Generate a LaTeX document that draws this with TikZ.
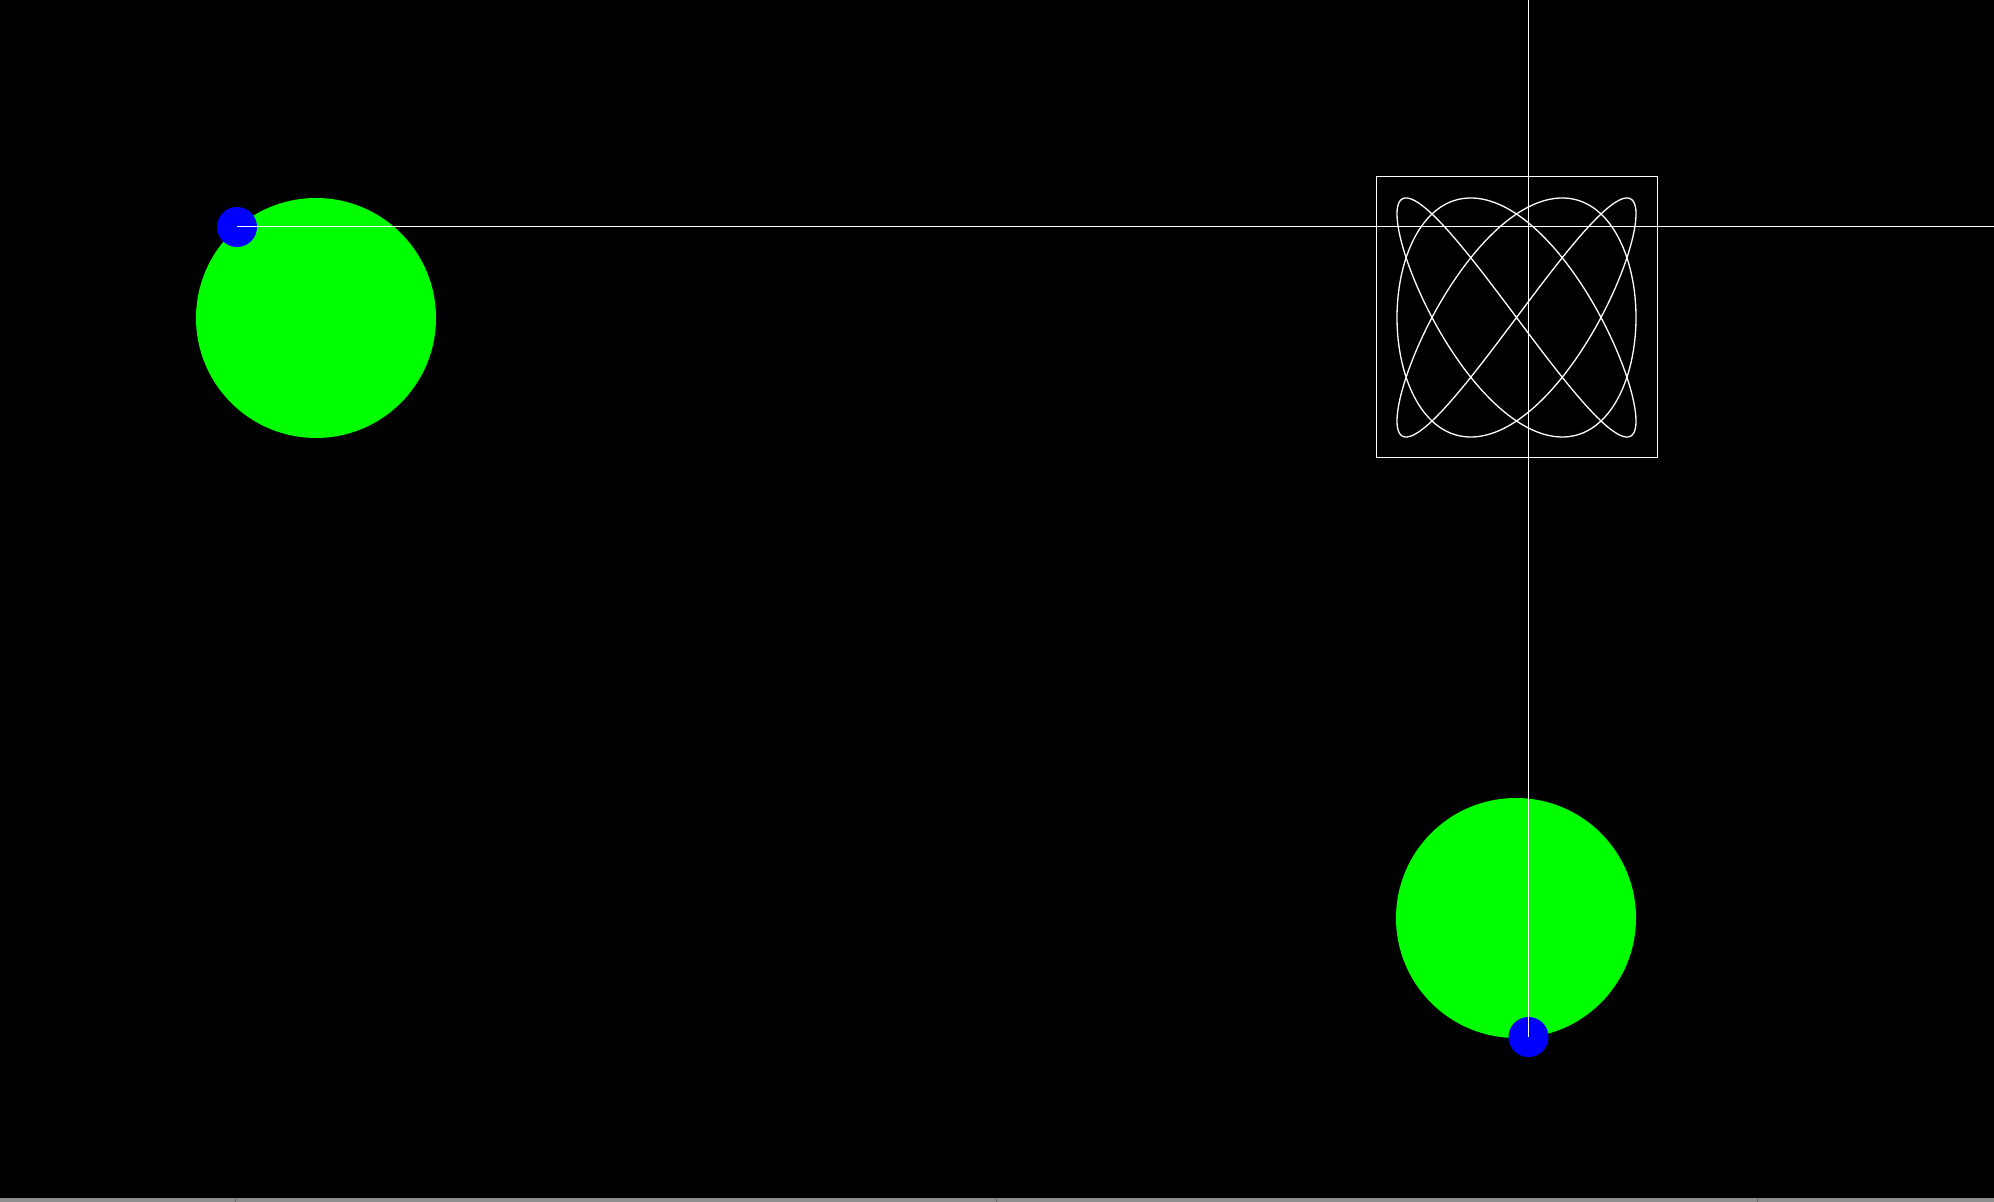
\documentclass[tikz,border=0pt]{standalone}
\usetikzlibrary{calc}
\definecolor{dotgreen}{HTML}{00FF00}
\definecolor{dotblue}{HTML}{0000FF}
\definecolor{stripgray}{HTML}{8E8E8E}
\tikzset{
  wheel/.style={fill=dotgreen, draw=none},
  marker/.style={fill=dotblue, draw=none},
  guide/.style={draw=white, line width=0.5pt},
  frame/.style={draw=white, line width=0.5pt},
  curve/.style={draw=white, line width=0.65pt, line join=round}
}
\begin{document}
\begin{tikzpicture}[x=0.5pt, y=-0.5pt]
  % background and page size
  \fill[black] (0,0) rectangle (1994,1202);
  \useasboundingbox (0,0) rectangle (1994,1202);
  % bottom gray strip (screenshot edge)
  \fill[stripgray] (0,1198) rectangle (1994,1202);
  \foreach \tx in {235,996,1757} \draw[black!60, line width=0.5pt] (\tx,1198) -- (\tx,1202);

  % named points
  \coordinate (c1) at (316,318);
  \coordinate (c2) at (1516,918);
  \coordinate (d1) at (237,227);
  \coordinate (d2) at (1528.5,1037);
  \coordinate (hend) at (1994,227);
  \coordinate (vend) at (1528.5,0);

  % green wheels
  \fill[wheel] (c1) circle[radius=120];
  \fill[wheel] (c2) circle[radius=120];
  % blue markers
  \fill[marker] (d1) circle[radius=20];
  \fill[marker] (d2) circle[radius=20];

  % Lissajous frame and curve
  \draw[frame] (1376,177) rectangle (1657,458);
  \draw[curve] plot[domain=0:360, samples=721, smooth, variable=\t]
    ({1516.5+119.5*cos(3*\t+22.5)}, {317.5-119.5*cos(4*\t)}) -- cycle;

  % guide lines
  \draw[guide] (d1) -- (hend);
  \draw[guide] (d2) -- (vend);
\end{tikzpicture}
\end{document}
